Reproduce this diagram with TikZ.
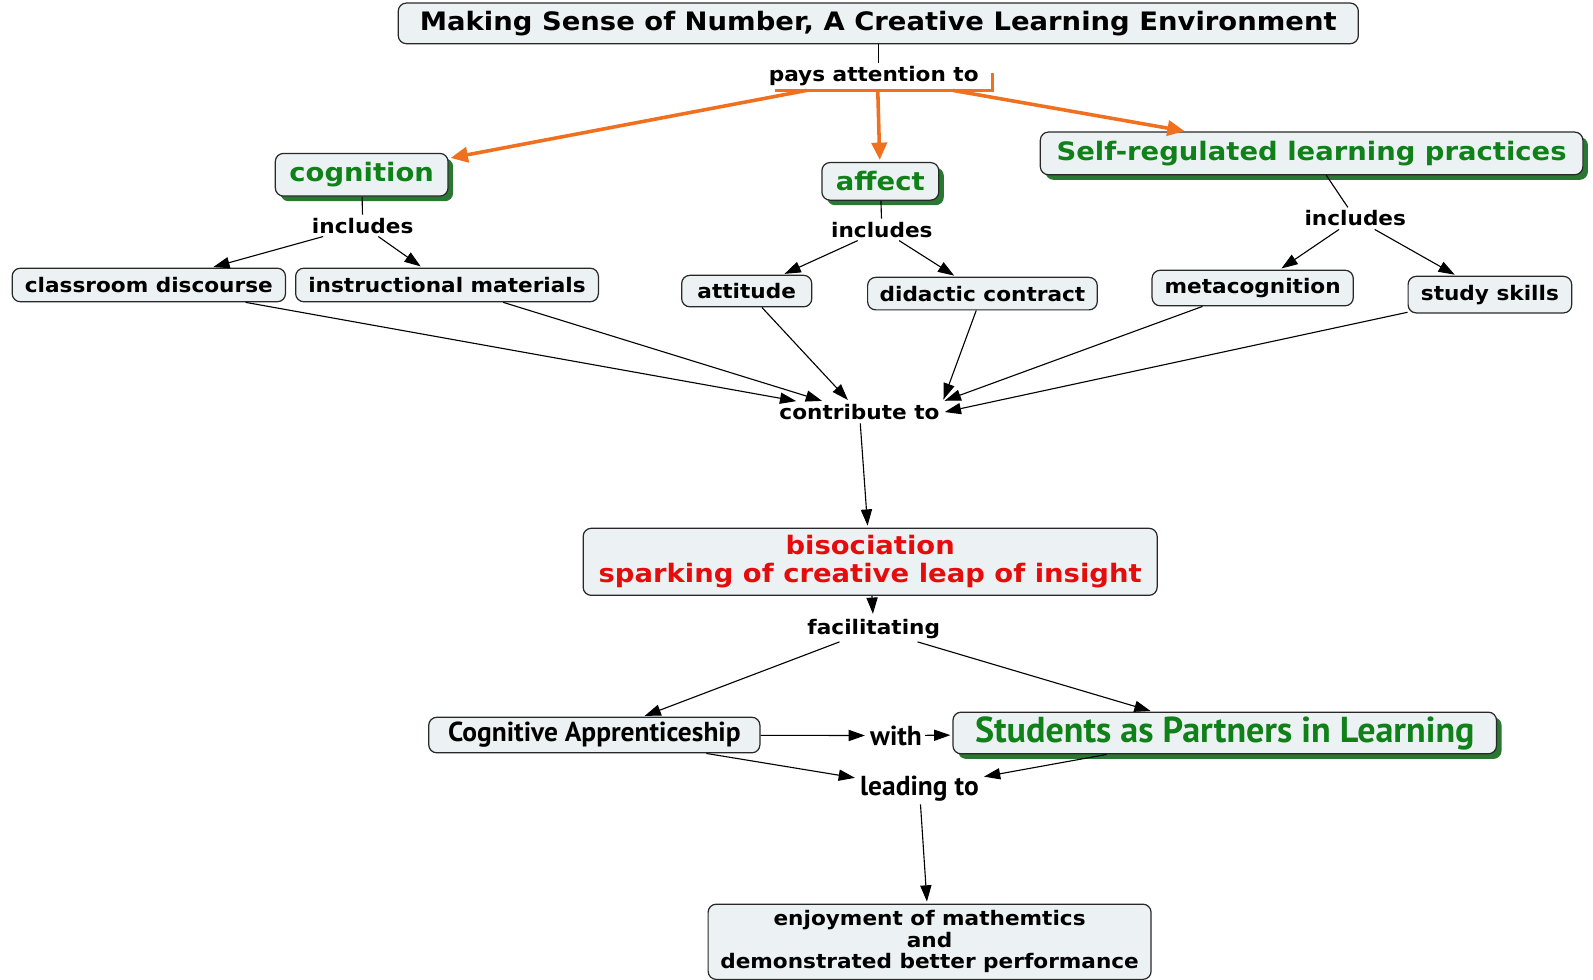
\documentclass[tikz,border=0pt]{standalone}
\usepackage{fontspec}
\newfontfamily\vf{DejaVu Sans}[FakeStretch=1.08]
\newfontfamily\cf{PT Sans}
\usetikzlibrary{arrows.meta,shadows}
\definecolor{boxfill}{RGB}{236,242,244}
\definecolor{edge}{RGB}{40,40,40}
\definecolor{hgreen}{RGB}{16,128,24}
\definecolor{shgreen}{RGB}{40,120,50}
\definecolor{hred}{RGB}{228,12,12}
\definecolor{orng}{RGB}{240,112,32}
\begin{document}
\begin{tikzpicture}[x=1pt,y=-1pt,
 nf/.style={font=\vf\bfseries\fontsize{19.7}{21}\selectfont},
 hf/.style={font=\vf\bfseries\fontsize{25}{27.5}\selectfont},
 cnf/.style={font=\cf\bfseries\fontsize{27}{30}\selectfont},
 chf/.style={font=\cf\bfseries\fontsize{35.5}{38}\selectfont},
 sz/.style 2 args={minimum width=#1pt,minimum height=#2pt},
 box/.style={draw=edge,line width=1.2pt,fill=boxfill,rounded corners=8pt,inner sep=0pt,align=center,nf},
 gshadow/.style={drop shadow={shadow xshift=5pt,shadow yshift=-5pt,fill=shgreen,opacity=1}},
 hbox/.style={box,hf,text=hgreen,gshadow},
 lbl/.style={nf,inner sep=3pt},
 clbl/.style={cnf,inner sep=3pt},
 conn/.style={draw=black,line width=1.1pt},
 arr/.style={conn,-{Triangle[length=16pt,width=11pt]},shorten >=2pt},
 oline/.style={draw=orng,line width=3.5pt},
 oarr/.style={oline,-{Triangle[length=17pt,width=15pt]},shorten >=2pt}
]
\useasboundingbox (0,0) rectangle (1568,964);
\fill[white] (0,0) rectangle (1568,964);

% nodes
\node[box,hf,sz={945}{40}] (title) at (864.5,23) {Making Sense of Number, A Creative Learning Environment};
\node[lbl] (pat) at (860,75) {pays attention to};

\node[hbox,sz={170}{42}] (cog) at (356,172) {cognition};
\node[hbox,sz={115}{37}] (aff) at (866.5,178.5) {affect};
\node[hbox,sz={534}{42}] (srl) at (1291,151) {Self-regulated learning practices};

\node[lbl] (inc1) at (357,222) {includes};
\node[lbl] (inc2) at (868,226) {includes};
\node[lbl] (inc3) at (1334,215) {includes};

\node[box,sz={269}{33}] (cd) at (146.5,280.5) {classroom discourse};
\node[box,sz={298}{33}] (im) at (440,280.5) {instructional materials};
\node[box,sz={128}{31}] (att) at (735,286.5) {attitude};
\node[box,sz={226}{32}] (dc) at (967,289) {didactic contract};
\node[box,sz={198}{35}] (mc) at (1233,283.5) {metacognition};
\node[box,sz={161}{36}] (ss) at (1466.5,290) {study skills};

\node[lbl] (con) at (846,406) {contribute to};

\node[box,hf,text=hred,sz={565}{66}] (bis) at (856.5,553) {bisociation\\sparking of creative leap of insight};

\node[lbl] (fac) at (860,619) {facilitating};

\node[box,cnf,sz={326}{35}] (ca) at (585,723.5) {Cognitive Apprenticeship};
\node[clbl] (with) at (882,724) {with};
\node[box,chf,text=hgreen,gshadow,sz={535}{41}] (spl) at (1205.5,721.5) {Students as Partners in Learning};
\node[clbl] (lead) at (905,776) {leading to};

\node[box,sz={436}{74}] (enj) at (915,927) {enjoyment of mathemtics\\and\\demonstrated better performance};

% connectors
\draw[conn] (title.south) -- (title.south |- pat.north);
\coordinate (oL) at (763,89);
\coordinate (oR) at (977,89);
\coordinate (oT) at (977,72);
\coordinate (j1) at (794,89);
\coordinate (j2) at (864,89);
\coordinate (j3) at (938,89);
\draw[oline,line join=miter] (oL) -- (oR) -- (oT);
\draw[oarr] (j1) -- (cog);
\draw[oarr] (j2) -- (aff);
\draw[oarr] (j3) -- (srl);

\draw[conn] (cog) -- (inc1);
\draw[conn] (aff) -- (inc2);
\draw[conn] (srl) -- (inc3);
\draw[arr] (inc1) -- (cd);
\draw[arr] (inc1) -- (im);
\draw[arr] (inc2) -- (att);
\draw[arr] (inc2) -- (dc);
\draw[arr] (inc3) -- (mc);
\draw[arr] (inc3) -- (ss);

\draw[arr] (cd) -- (con);
\draw[arr] (im) -- (con);
\draw[arr] (att) -- (con);
\draw[arr] (dc) -- (con.north east);
\draw[arr] (mc) -- (con.north east);
\draw[arr] (ss) -- (con.east);

\draw[arr] (con) -- (bis);
\draw[arr] (bis) -- (fac);
\draw[arr] (fac) -- (ca);
\draw[arr] (fac) -- (spl);
\draw[arr] (ca) -- (with);
\draw[arr] (with) -- (spl);
\draw[arr] (ca) -- (lead);
\draw[arr] (spl) -- (lead);
\draw[arr] (lead) -- (enj);
\end{tikzpicture}
\end{document}
